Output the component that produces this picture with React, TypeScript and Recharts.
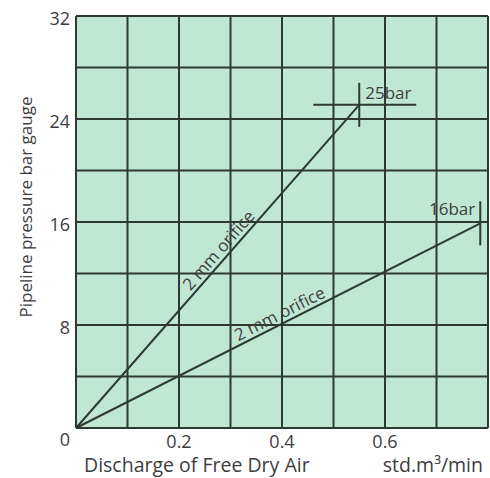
import React from 'react';
import {
  LineChart,
  Line,
  XAxis,
  YAxis,
  CartesianGrid,
  ReferenceDot,
  Label,
} from 'recharts';

// discharge (std.m³/min) vs pipeline pressure (bar) through a 2 mm orifice
const line25bar = [
  { q: 0, p: 0 },
  { q: 0.55, p: 25.1 },
];
const line16bar = [
  { q: 0, p: 0 },
  { q: 0.785, p: 15.9 },
];

const xTicks = [0, 0.1, 0.2, 0.3, 0.4, 0.5, 0.6, 0.7, 0.8];
const xTickLabels = ['', '', '0.2', '', '0.4', '', '0.6', '', ''];
const yTicks = [0, 4, 8, 12, 16, 20, 24, 28, 32];
const yTickLabels = ['0', '', '8', '', '16', '', '24', '', '32'];

const lineLabel = '2 mm orifice';
const xTitle = 'Discharge of Free Dry Air';
const xUnit = 'std.m³/min';
const yTitle = 'Pipeline pressure bar gauge';

const FONT = '"Open Sans", "Noto Sans", sans-serif';
const TEXT = '#3d3d3d';
const INK = '#2c3a33';
const BG = '#c0e6d4';

const YTick = (props: any) => {
  const { x, y, payload, index } = props;
  const txt = yTickLabels[index];
  if (!txt) return <g />;
  return (
    <text
      x={x}
      y={y + (payload.value === 0 ? 11 : 2)}
      textAnchor="end"
      dominantBaseline="central"
      fontFamily={FONT}
      fontSize={18}
      fill={TEXT}
    >
      {txt}
    </text>
  );
};

const XTick = (props: any) => {
  const { x, y, index } = props;
  const txt = xTickLabels[index];
  if (!txt) return <g />;
  return (
    <text x={x} y={y} dy="0.71em" textAnchor="middle" fontFamily={FONT} fontSize={18} fill={TEXT}>
      {txt}
    </text>
  );
};

const endMarker = (label: string, kind: 'cross' | 'tick', lastIndex: number) => (props: any) => {
  const { cx, cy, index } = props;
  if (index !== lastIndex) return <g key={`d-${label}-${index}`} />;
  return (
    <g key={`d-${label}-${index}`}>
      {kind === 'cross' && (
        <line x1={cx - 46} y1={cy} x2={cx + 57} y2={cy} stroke={INK} strokeWidth={2} />
      )}
      <line x1={cx} y1={cy - 22} x2={cx} y2={cy + 22} stroke={INK} strokeWidth={2} />
      <text
        x={kind === 'cross' ? cx + 6 : cx - 5}
        y={cy - (kind === 'cross' ? 12 : 15)}
        textAnchor={kind === 'cross' ? 'start' : 'end'}
        dominantBaseline="central"
        fontFamily={FONT}
        fontSize={17}
        fill={TEXT}
      >
        {label}
      </text>
    </g>
  );
};

const slopeLabel = (angle: number) => (props: any) => {
  const { viewBox } = props;
  const cx = viewBox.x + (viewBox.width || 0) / 2;
  const cy = viewBox.y + (viewBox.height || 0) / 2;
  return (
    <text
      x={cx}
      y={cy}
      dy={-4}
      textAnchor="middle"
      transform={`rotate(${angle}, ${cx}, ${cy})`}
      fontFamily={FONT}
      fontSize={17}
      fill={TEXT}
    >
      {lineLabel}
    </text>
  );
};

const XTitle = (props: any) => {
  const { viewBox } = props;
  const base = viewBox.y + 44;
  return (
    <g fontFamily={FONT} fontSize={19.5} fill={TEXT}>
      <text x={viewBox.x + 8} y={base} textAnchor="start">
        {xTitle}
      </text>
      <text x={viewBox.x + viewBox.width - 5} y={base} textAnchor="end">
        {xUnit}
      </text>
    </g>
  );
};

const YTitle = () => (
  <text
    x={25}
    y={207}
    transform="rotate(-90, 25, 207)"
    textAnchor="middle"
    dominantBaseline="central"
    fontFamily={FONT}
    fontSize={17}
    fill={TEXT}
  >
    {yTitle}
  </text>
);

const t25 = 0.53;
const t16 = 0.515;
const end25 = line25bar[line25bar.length - 1];
const end16 = line16bar[line16bar.length - 1];

export default function App() {
  return (
    <div style={{ position: 'absolute', left: 0, top: 0, width: 490, height: 478, background: '#fff' }}>
      <LineChart width={490} height={478} margin={{ top: 16, right: 2, bottom: 0, left: 0 }}>
        <CartesianGrid fill={BG} fillOpacity={1} stroke={INK} strokeWidth={2} />
        <XAxis
          dataKey="q"
          type="number"
          domain={[0, 0.8]}
          ticks={xTicks}
          interval={0}
          height={50}
          axisLine={false}
          tickLine={false}
          tickSize={0}
          tickMargin={7}
          tick={<XTick />}
        >
          <Label content={<XTitle />} />
        </XAxis>
        <YAxis
          dataKey="p"
          type="number"
          domain={[0, 32]}
          ticks={yTicks}
          interval={0}
          width={76}
          axisLine={false}
          tickLine={false}
          tickSize={0}
          tickMargin={6}
          tick={<YTick />}
        >
          <Label content={<YTitle />} />
        </YAxis>
        <Line
          data={line25bar}
          dataKey="p"
          stroke={INK}
          strokeWidth={2}
          dot={endMarker('25bar', 'cross', line25bar.length - 1)}
          activeDot={false}
          isAnimationActive={false}
        />
        <Line
          data={line16bar}
          dataKey="p"
          stroke={INK}
          strokeWidth={2}
          dot={endMarker('16bar', 'tick', line16bar.length - 1)}
          activeDot={false}
          isAnimationActive={false}
        />
        <ReferenceDot
          x={end25.q * t25}
          y={end25.p * t25}
          r={0}
          fill="none"
          stroke="none"
          label={{ content: slopeLabel(-48.8) }}
        />
        <ReferenceDot
          x={end16.q * t16}
          y={end16.p * t16}
          r={0}
          fill="none"
          stroke="none"
          label={{ content: slopeLabel(-26.9) }}
        />
      </LineChart>
    </div>
  );
}
